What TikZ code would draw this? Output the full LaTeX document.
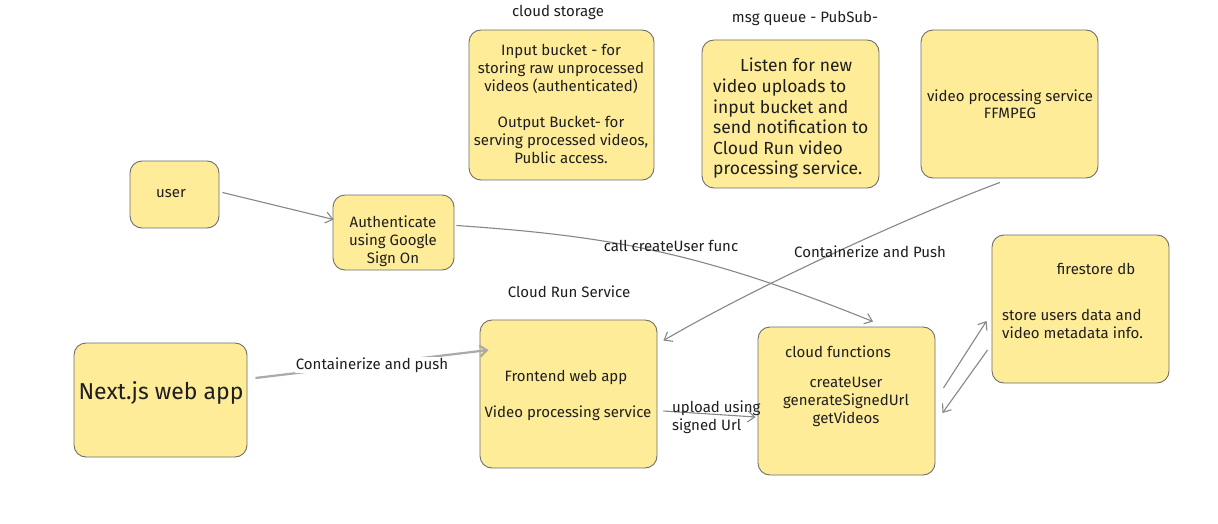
\documentclass[tikz,border=0pt]{standalone}
\usepackage{fontspec}
\setmainfont{Fira Sans}
\usetikzlibrary{arrows.meta,calc}
\definecolor{boxfill}{RGB}{255,236,153}
\definecolor{boxline}{RGB}{110,110,110}
\definecolor{ink}{RGB}{30,30,30}
\definecolor{arr}{RGB}{135,135,135}
\definecolor{arrlight}{RGB}{170,170,170}
\begin{document}
\begin{tikzpicture}[x=1pt,y=-1pt,
  font=\fontsize{15}{18}\selectfont,
  box/.style={draw=boxline, fill=boxfill, rounded corners=12pt, line width=0.9pt, inner sep=0pt},
  txt/.style={inner sep=0pt, align=center, text=ink},
  conn/.style={draw=arr, line width=1.1pt, -{Straight Barb[length=7pt,width=11pt]}},
  lbl/.style={inner sep=1pt, text=ink, fill=white}]
\useasboundingbox[fill=white] (0,0) rectangle (1218,524);

% boxes
\node[box, minimum width=89pt, minimum height=67pt] (user) at (174.5,194.5) {};
\node[box, minimum width=121pt, minimum height=75pt] (auth) at (393.5,232.5) {};
\node[box, minimum width=185pt, minimum height=150pt] (store) at (561.5,105) {};
\node[box, minimum width=177pt, minimum height=148pt] (msg) at (790.5,114) {};
\node[box, minimum width=177pt, minimum height=148pt] (vps) at (1009.5,104) {};
\node[box, minimum width=177pt, minimum height=148pt] (fs) at (1080.5,309) {};
\node[box, minimum width=173pt, minimum height=114pt] (nx) at (160.5,400) {};
\node[box, minimum width=177pt, minimum height=148pt] (fe) at (568.5,394) {};
\node[box, minimum width=177pt, minimum height=148pt] (cf) at (846.5,401) {};

% texts
\node[txt] (tuser) at (171,194) {user};
\node[txt] (tauth) at (393,241) {Authenticate\\using Google\\Sign On};
\node[txt] (lstore) at (558,12) {cloud storage};
\node[txt] (tstore) at (561,104) {Input bucket - for\\storing raw unprocessed\\videos (authenticated)\\[18pt]Output Bucket- for\\serving processed videos,\\Public access.};
\node[txt] (lmsg) at (805,18) {msg queue - PubSub-};
\node[txt, align=left, anchor=west, font=\fontsize{17.5}{20.6}\selectfont] (tmsg) at (713,118.5) {\hspace*{27pt}Listen for new\\video uploads to\\input bucket and\\send notification to\\Cloud Run video\\processing service.};
\node[txt, font=\fontsize{15}{17}\selectfont] (tvps) at (1010,104.5) {video processing service\\FFMPEG};
\node[txt] (tfs1) at (1096,269) {firestore db};
\node[txt, align=left, anchor=west] (tfs2) at (1002,324) {store users data and\\video metadata info.};
\node[txt, font=\fontsize{23}{27}\selectfont] (tnx) at (161,393) {Next.js web app};
\node[txt] (lfe) at (569,292) {Cloud Run Service};
\node[txt] (tfe1) at (566,377) {Frontend web app};
\node[txt] (tfe2) at (568,413) {Video processing service};
\node[txt] (tcf1) at (838,352) {cloud functions};
\node[txt] (tcf2) at (846,402) {createUser\\generateSignedUrl\\getVideos};

% connectors
\draw[conn] ($(user.east)+(3,-2)$) -- ($(auth.west)+(1,-13)$);
\draw[conn] ($(auth.east)+(2,-7)$) .. controls (610,236) and (700,252) .. ($(cf.north)+(26.5,-5)$);
\node[txt] (lcall) at (671,246) {call createUser func};
\draw[conn] ($(vps.south)+(-9.5,4)$) .. controls (920,212) and (760,284) .. ($(fe.north east)+(6,21)$);
\node[txt] (lpush) at (870,252) {Containerize and Push};
\draw[conn, draw=arrlight, line width=2.2pt, -{Straight Barb[length=7pt,width=11pt]}] ($(nx.east)+(8,-22)$) -- ($(fe.west)+(9,-44)$);
\node[lbl] (lnx) at (372,365) {Containerize and push};
\draw[conn] ($(fe.east)+(6,17)$) -- ($(cf.west)+(-2,16)$);
\node[txt, align=left, anchor=west] (lup) at (672,417) {upload using\\signed Url};
\draw[conn] ($(cf.east)+(8,-13)$) -- ($(fs.west)+(-5,12)$);
\draw[conn] ($(fs.west)+(-4,41)$) -- ($(cf.east)+(7,12)$);
\end{tikzpicture}
\end{document}
